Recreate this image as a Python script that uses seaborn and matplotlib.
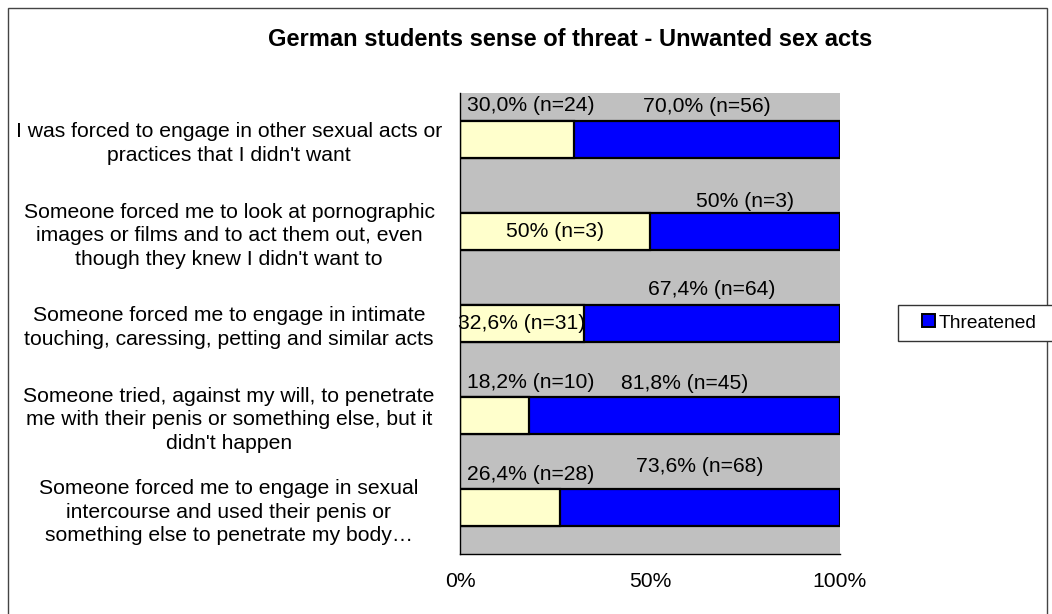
import matplotlib
matplotlib.use("Agg")
import matplotlib.pyplot as plt
from matplotlib.patches import Patch, Rectangle
import seaborn as sns
import pandas as pd

# Survey items (top to bottom)
items = [
    "I was forced to engage in other sexual acts or\npractices that I didn't want",
    "Someone forced me to look at pornographic\nimages or films and to act them out, even\nthough they knew I didn't want to",
    "Someone forced me to engage in intimate\ntouching, caressing, petting and similar acts",
    "Someone tried, against my will, to penetrate\nme with their penis or something else, but it\ndidn't happen",
    "Someone forced me to engage in sexual\nintercourse and used their penis or\nsomething else to penetrate my body\u2026",
]

# Share (%) and counts of respondents not threatened / threatened
not_pct = [30.0, 50.0, 32.6, 18.2, 26.4]
not_n = [24, 3, 31, 10, 28]
thr_pct = [70.0, 50.0, 67.4, 81.8, 73.6]
thr_n = [56, 3, 64, 45, 68]
pct_decimals = [1, 0, 1, 1, 1]

x_ticks = [0, 50, 100]
x_tick_labels = ["0%", "50%", "100%"]

title = "German students sense of threat - Unwanted sex acts"
legend_label = "Threatened"


def pct_label(value, n, dec):
    txt = f"{value:.{dec}f}".replace(".", ",")
    return f"{txt}% (n={n})"


df = pd.DataFrame({
    "item": items,
    "not_pct": not_pct,
    "thr_pct": thr_pct,
})
df["total"] = df["not_pct"] + df["thr_pct"]

sns.set_style("white")
plt.rcParams["font.family"] = ["Liberation Sans", "DejaVu Sans"]
plt.rcParams["text.color"] = "black"
plt.rcParams["xtick.color"] = "black"
plt.rcParams["ytick.color"] = "black"
plt.rcParams["xtick.labelcolor"] = "black"
plt.rcParams["ytick.labelcolor"] = "black"

W, H = 1052, 614
fig = plt.figure(figsize=(W / 100, H / 100), dpi=100)
fig.patch.set_facecolor("white")

# outer chart frame
fig.add_artist(Rectangle((8 / W, -0.05), (1047 - 8) / W, (H - 8) / H + 0.05,
                         transform=fig.transFigure, fill=False,
                         edgecolor="#444444", linewidth=1.0))

ax = fig.add_axes([460 / W, 1 - 554 / H, 380 / W, 461 / H])
ax.set_facecolor("#C0C0C0")

bar_kw = dict(orient="h", width=0.4, edgecolor="black", linewidth=1.6, ax=ax)
sns.barplot(data=df, x="total", y="item", color="#0000FF", saturation=1, **bar_kw)
sns.barplot(data=df, x="not_pct", y="item", color="#FFFFCC", saturation=1, **bar_kw)

ax.set_xlim(0, 100)
ax.set_ylim(4.5, -0.5)
ax.set_xlabel("")
ax.set_ylabel("")

# value labels
inside_yellow = [False, True, True, False, False]
blue_label_offset = [0.35, 0.32, 0.37, 0.35, 0.45]
fs = 15.2
for i in range(len(items)):
    blue_mid = not_pct[i] + thr_pct[i] / 2
    ax.text(blue_mid, i - blue_label_offset[i],
            pct_label(thr_pct[i], thr_n[i], pct_decimals[i]),
            ha="center", va="center", fontsize=fs, color="black")
    if inside_yellow[i]:
        ax.text(not_pct[i] / 2, i, pct_label(not_pct[i], not_n[i], pct_decimals[i]),
                ha="center", va="center", fontsize=fs, color="black")
    else:
        ax.text(1.8, i - 0.36, pct_label(not_pct[i], not_n[i], pct_decimals[i]),
                ha="left", va="center", fontsize=fs, color="black")

# axes styling
for side in ["top", "right"]:
    ax.spines[side].set_visible(False)
for side in ["left", "bottom"]:
    ax.spines[side].set_color("black")
    ax.spines[side].set_linewidth(1.0)

ax.set_xticks(x_ticks)
ax.set_xticklabels(x_tick_labels, fontsize=fs, color="black")
ax.tick_params(axis="x", direction="out", length=4, width=1, color="black", pad=9)

ax.set_yticks(range(len(items)))
ax.set_yticklabels(items, fontsize=fs, ha="center", multialignment="center",
                   linespacing=1.3, color="black")
ax.tick_params(axis="y", which="major", length=0, pad=(460 - 229) * 0.72)
ax.set_yticks([i - 0.5 for i in range(len(items) + 1)], minor=True)
ax.tick_params(axis="y", which="minor", direction="out", length=4, width=1, color="black")

fig.text(570 / W, 1 - 40 / H, title, ha="center", va="center",
         fontsize=17, fontweight="bold", color="black")

# legend: frame runs past the right edge of the canvas
fig.add_artist(Rectangle((898 / W, 1 - 341 / H), (1070 - 898) / W, 36 / H,
                         transform=fig.transFigure, fill=True, facecolor="white",
                         edgecolor="#333333", linewidth=1.0, clip_on=False))
leg = fig.legend(handles=[Patch(facecolor="#0000FF", edgecolor="black", linewidth=1.4)],
                 labels=[legend_label], loc="center left",
                 bbox_to_anchor=(922 / W, 1 - 323 / H), borderaxespad=0,
                 fontsize=13.8, frameon=False,
                 handlelength=0.7, handleheight=0.65, handletextpad=0.15,
                 borderpad=0.0)
for t in leg.get_texts():
    t.set_color("black")

fig.savefig("out.png", dpi=100, facecolor="white")
